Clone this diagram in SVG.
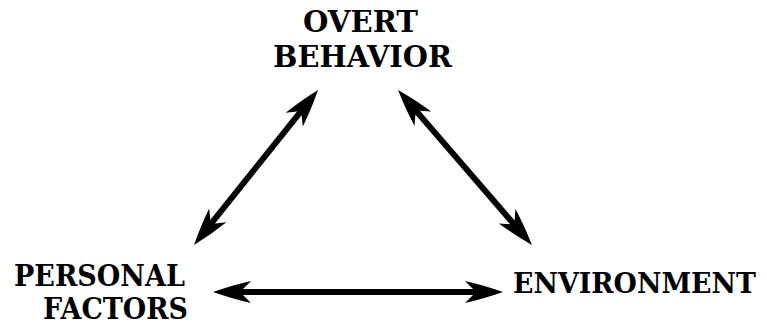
<svg xmlns="http://www.w3.org/2000/svg" width="767" height="325" viewBox="0 0 767 325">
<style>
.t{font-family:"DejaVu Serif",serif;font-weight:700;font-size:30px;fill:#000}
.s{font-size:28px}
.c{stroke:#000;stroke-width:6;fill:none}
</style>
<defs>
<marker id="ah" markerUnits="userSpaceOnUse" markerWidth="40" markerHeight="24" viewBox="0 0 40 24" refX="26" refY="12" orient="auto-start-reverse">
<path d="M38,12 Q18,5 0,1 L11,12 L0,23 Q18,19 38,12 Z" fill="#000"/>
</marker>
</defs>
<rect width="767" height="325" fill="#fff"/>
<g id="overt-behavior">
<text class="t" x="303" y="32" textLength="115" lengthAdjust="spacingAndGlyphs">OVERT</text>
<text class="t" x="273" y="67" textLength="179" lengthAdjust="spacingAndGlyphs">BEHAVIOR</text>
</g>
<g id="personal-factors">
<text class="t" x="14" y="286" textLength="171" lengthAdjust="spacingAndGlyphs">PERSONAL</text>
<text class="t" x="43" y="319" textLength="145" lengthAdjust="spacingAndGlyphs">FACTORS</text>
</g>
<g id="environment">
<text class="t s" x="513" y="293" textLength="243" lengthAdjust="spacingAndGlyphs">ENVIRONMENT</text>
</g>
<g id="connectors">
<line class="c" x1="201.5" y1="235.6" x2="310.5" y2="99.4" marker-start="url(#ah)" marker-end="url(#ah)"/>
<line class="c" x1="405.9" y1="99.1" x2="524.1" y2="235.9" marker-start="url(#ah)" marker-end="url(#ah)"/>
<line class="c" x1="225" y1="292" x2="491" y2="292" marker-start="url(#ah)" marker-end="url(#ah)"/>
</g>
</svg>
